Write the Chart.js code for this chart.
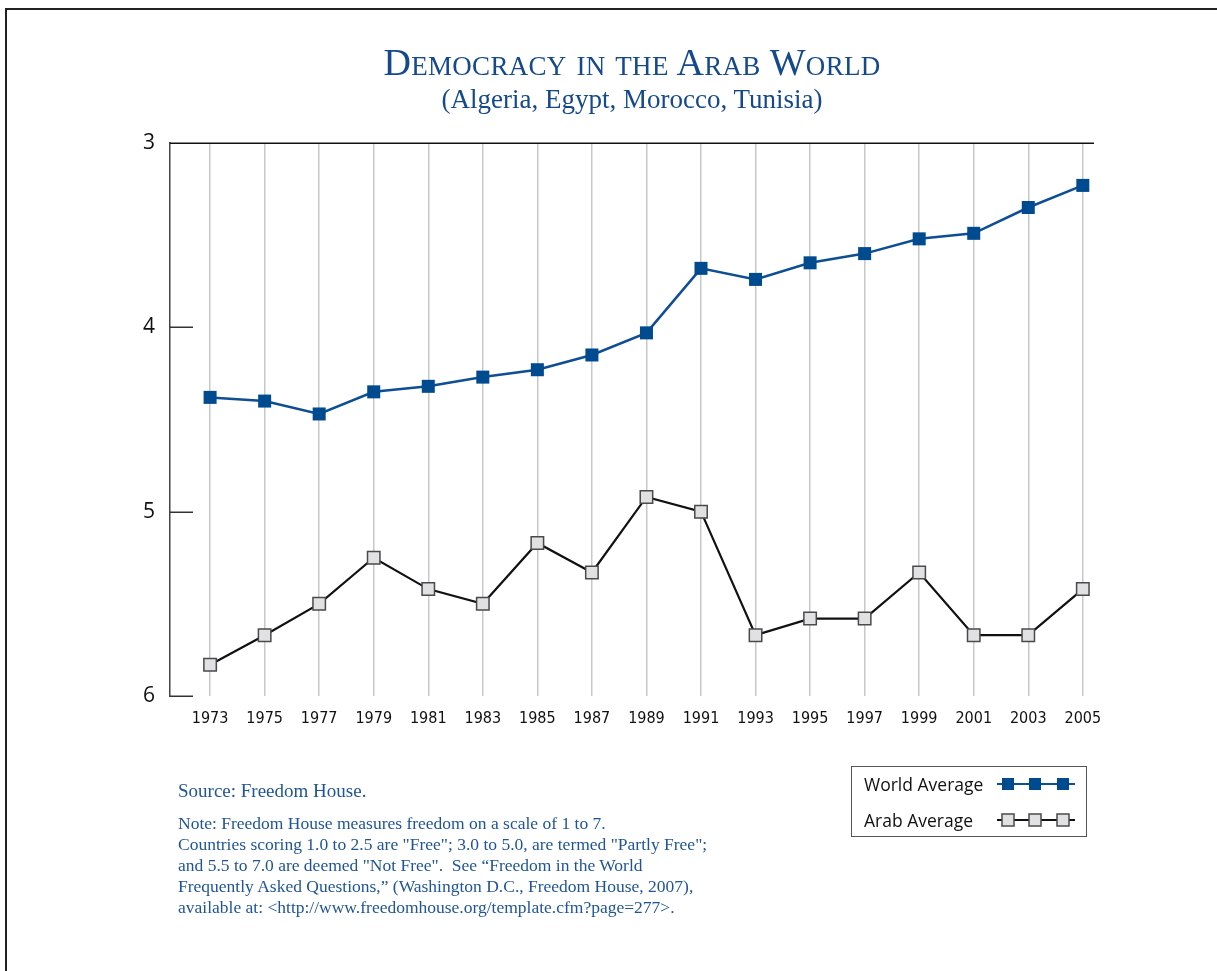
<!DOCTYPE html>
<html><head><meta charset="utf-8">
<script src="https://cdn.jsdelivr.net/npm/chart.js@4"></script>
<style>
body{margin:0;background:#fff;}
#page{position:relative;width:1217px;height:971px;overflow:hidden;background:#fff;}
#frame{position:absolute;left:5px;top:8px;width:1230px;height:1000px;border-left:2px solid #222;border-top:2px solid #222;}
#wrap{position:absolute;left:0;top:0;width:1217px;height:971px;}
.t{position:absolute;left:170px;width:924px;text-align:center;color:#14498b;font-family:'Liberation Serif','Times New Roman',serif;white-space:nowrap;}
#title{top:42px;font-size:38px;line-height:40px;font-variant:small-caps;letter-spacing:0.3px;}
#sub{top:84px;font-size:27px;line-height:30px;}
.src{position:absolute;left:178px;color:#1f5597;font-family:'Liberation Serif','Times New Roman',serif;white-space:nowrap;}
#source{top:780px;font-size:19px;line-height:22px;}
#note{top:813px;font-size:17.5px;line-height:21px;}
#legend{position:absolute;left:851px;top:766px;width:234px;height:69px;border:1px solid #555;font-family:'Open Sans',sans-serif;font-size:17.5px;color:#111;}
.lrow{position:absolute;left:12px;height:24px;line-height:24px;}
.lsvg{position:absolute;left:144px;}
</style></head>
<body>
<div id="page">
<div id="frame"></div>
<div id="wrap"><canvas id="c"></canvas></div>
<div class="t" id="title">Democracy in the Arab World</div>
<div class="t" id="sub">(Algeria, Egypt, Morocco, Tunisia)</div>
<div class="src" id="source">Source: Freedom House.</div>
<div class="src" id="note">Note: Freedom House measures freedom on a scale of 1 to 7.<br>Countries scoring 1.0 to 2.5 are "Free"; 3.0 to 5.0, are termed "Partly Free";<br>and 5.5 to 7.0 are deemed "Not Free".&nbsp; See “Freedom in the World<br>Frequently Asked Questions,” (Washington D.C., Freedom House, 2007),<br>available at: &lt;http://www.freedomhouse.org/template.cfm?page=277&gt;.</div>
<div id="legend"></div>
</div>
<script>
const years = [1973,1975,1977,1979,1981,1983,1985,1987,1989,1991,1993,1995,1997,1999,2001,2003,2005];
const worldAverage = [4.38,4.40,4.47,4.35,4.32,4.27,4.23,4.15,4.03,3.68,3.74,3.65,3.60,3.52,3.49,3.35,3.23];
const arabAverage = [5.83,5.67,5.50,5.25,5.42,5.50,5.17,5.33,4.92,5.00,5.67,5.58,5.58,5.33,5.67,5.67,5.42];
const yTicks = [3,4,5,6];
const seriesNames = ['World Average','Arab Average'];

const axisDeco = {
  id:'axisDeco',
  beforeDatasetsDraw(chart){
    const {ctx, chartArea:a, scales:{y}} = chart;
    ctx.save();
    ctx.lineWidth = 1.5;
    ctx.strokeStyle = '#111';
    const yt = Math.round(y.getPixelForValue(yTicks[0])) + 0.25;
    ctx.beginPath(); ctx.moveTo(a.left, yt); ctx.lineTo(a.right, yt); ctx.stroke();
    ctx.strokeStyle = '#333';
    yTicks.slice(1).forEach(v => {
      const p = Math.round(y.getPixelForValue(v)) + 0.25;
      ctx.beginPath(); ctx.moveTo(a.left, p); ctx.lineTo(a.left + 23, p); ctx.stroke();
    });
    ctx.restore();
  }
};

new Chart(document.getElementById('c'), {
  type:'line',
  data:{
    datasets:[
      {label:seriesNames[0], data:years.map((x,i)=>({x, y:worldAverage[i]})),
       borderColor:'#0d4e94', borderWidth:2.5, pointStyle:'rect', pointRadius:9.2, pointHoverRadius:9.2,
       pointBackgroundColor:'#004a8f', pointBorderColor:'#004a8f', pointBorderWidth:0, tension:0},
      {label:seriesNames[1], data:years.map((x,i)=>({x, y:arabAverage[i]})),
       borderColor:'#111', borderWidth:2.2, pointStyle:'rect', pointRadius:8.8, pointHoverRadius:8.8,
       pointBackgroundColor:'#e1e1e3', pointBorderColor:'#4a4a4a', pointBorderWidth:1.5, tension:0}
    ]
  },
  options:{
    responsive:true, maintainAspectRatio:false, animation:false,
    layout:{padding:{left:120, top:143, right:123, bottom:235}},
    plugins:{legend:{display:false}, title:{display:false}, tooltip:{enabled:false}},
    scales:{
      x:{type:'linear', min:1971.53, max:2005.41,
         afterBuildTicks(s){ s.ticks = years.map(v=>({value:v})); },
         afterFit(s){ s.height = 40; },
         ticks:{callback:v=>String(v), autoSkip:false, maxRotation:0, padding:13, color:'#111',
                font:{family:"'DejaVu Sans Condensed','Liberation Sans Narrow','Roboto',sans-serif", size:16}},
         grid:{color:'#c8c8c8', lineWidth:1.5, drawTicks:false},
         border:{display:false}},
      y:{min:3, max:6, reverse:true,
         afterBuildTicks(s){ s.ticks = yTicks.map(v=>({value:v})); },
         afterFit(s){ s.width = 50; },
         ticks:{padding:15, color:'#111', font:{family:"'Open Sans',sans-serif", size:21}},
         grid:{display:false, drawTicks:false},
         border:{display:true, color:'#444', width:1.5}}
    }
  },
  plugins:[axisDeco]
});

// legend
const lg = document.getElementById('legend');
const styles = [
  {line:'#0d4e94', fill:'#004a8f', stroke:'#004a8f', sw:0},
  {line:'#111', fill:'#e1e1e3', stroke:'#4a4a4a', sw:1.5}
];
seriesNames.forEach((name,i)=>{
  const top = 5 + i*36;
  const row = document.createElement('div');
  row.className='lrow'; row.style.top = top+'px'; row.textContent = name;
  lg.appendChild(row);
  const st = styles[i];
  const svgNS='http://www.w3.org/2000/svg';
  const svg = document.createElementNS(svgNS,'svg');
  svg.setAttribute('class','lsvg'); svg.setAttribute('width','82'); svg.setAttribute('height','20');
  svg.style.top = (top+2)+'px';
  const ln = document.createElementNS(svgNS,'line');
  ln.setAttribute('x1','1'); ln.setAttribute('x2','79'); ln.setAttribute('y1','10'); ln.setAttribute('y2','10');
  ln.setAttribute('stroke',st.line); ln.setAttribute('stroke-width','2');
  svg.appendChild(ln);
  [12,39,67].forEach(cx=>{
    const r = document.createElementNS(svgNS,'rect');
    r.setAttribute('x',cx-6); r.setAttribute('y',4); r.setAttribute('width',12); r.setAttribute('height',12);
    r.setAttribute('fill',st.fill);
    if(st.sw){ r.setAttribute('stroke',st.stroke); r.setAttribute('stroke-width',st.sw); }
    svg.appendChild(r);
  });
  lg.appendChild(svg);
});
</script>
</body></html>
